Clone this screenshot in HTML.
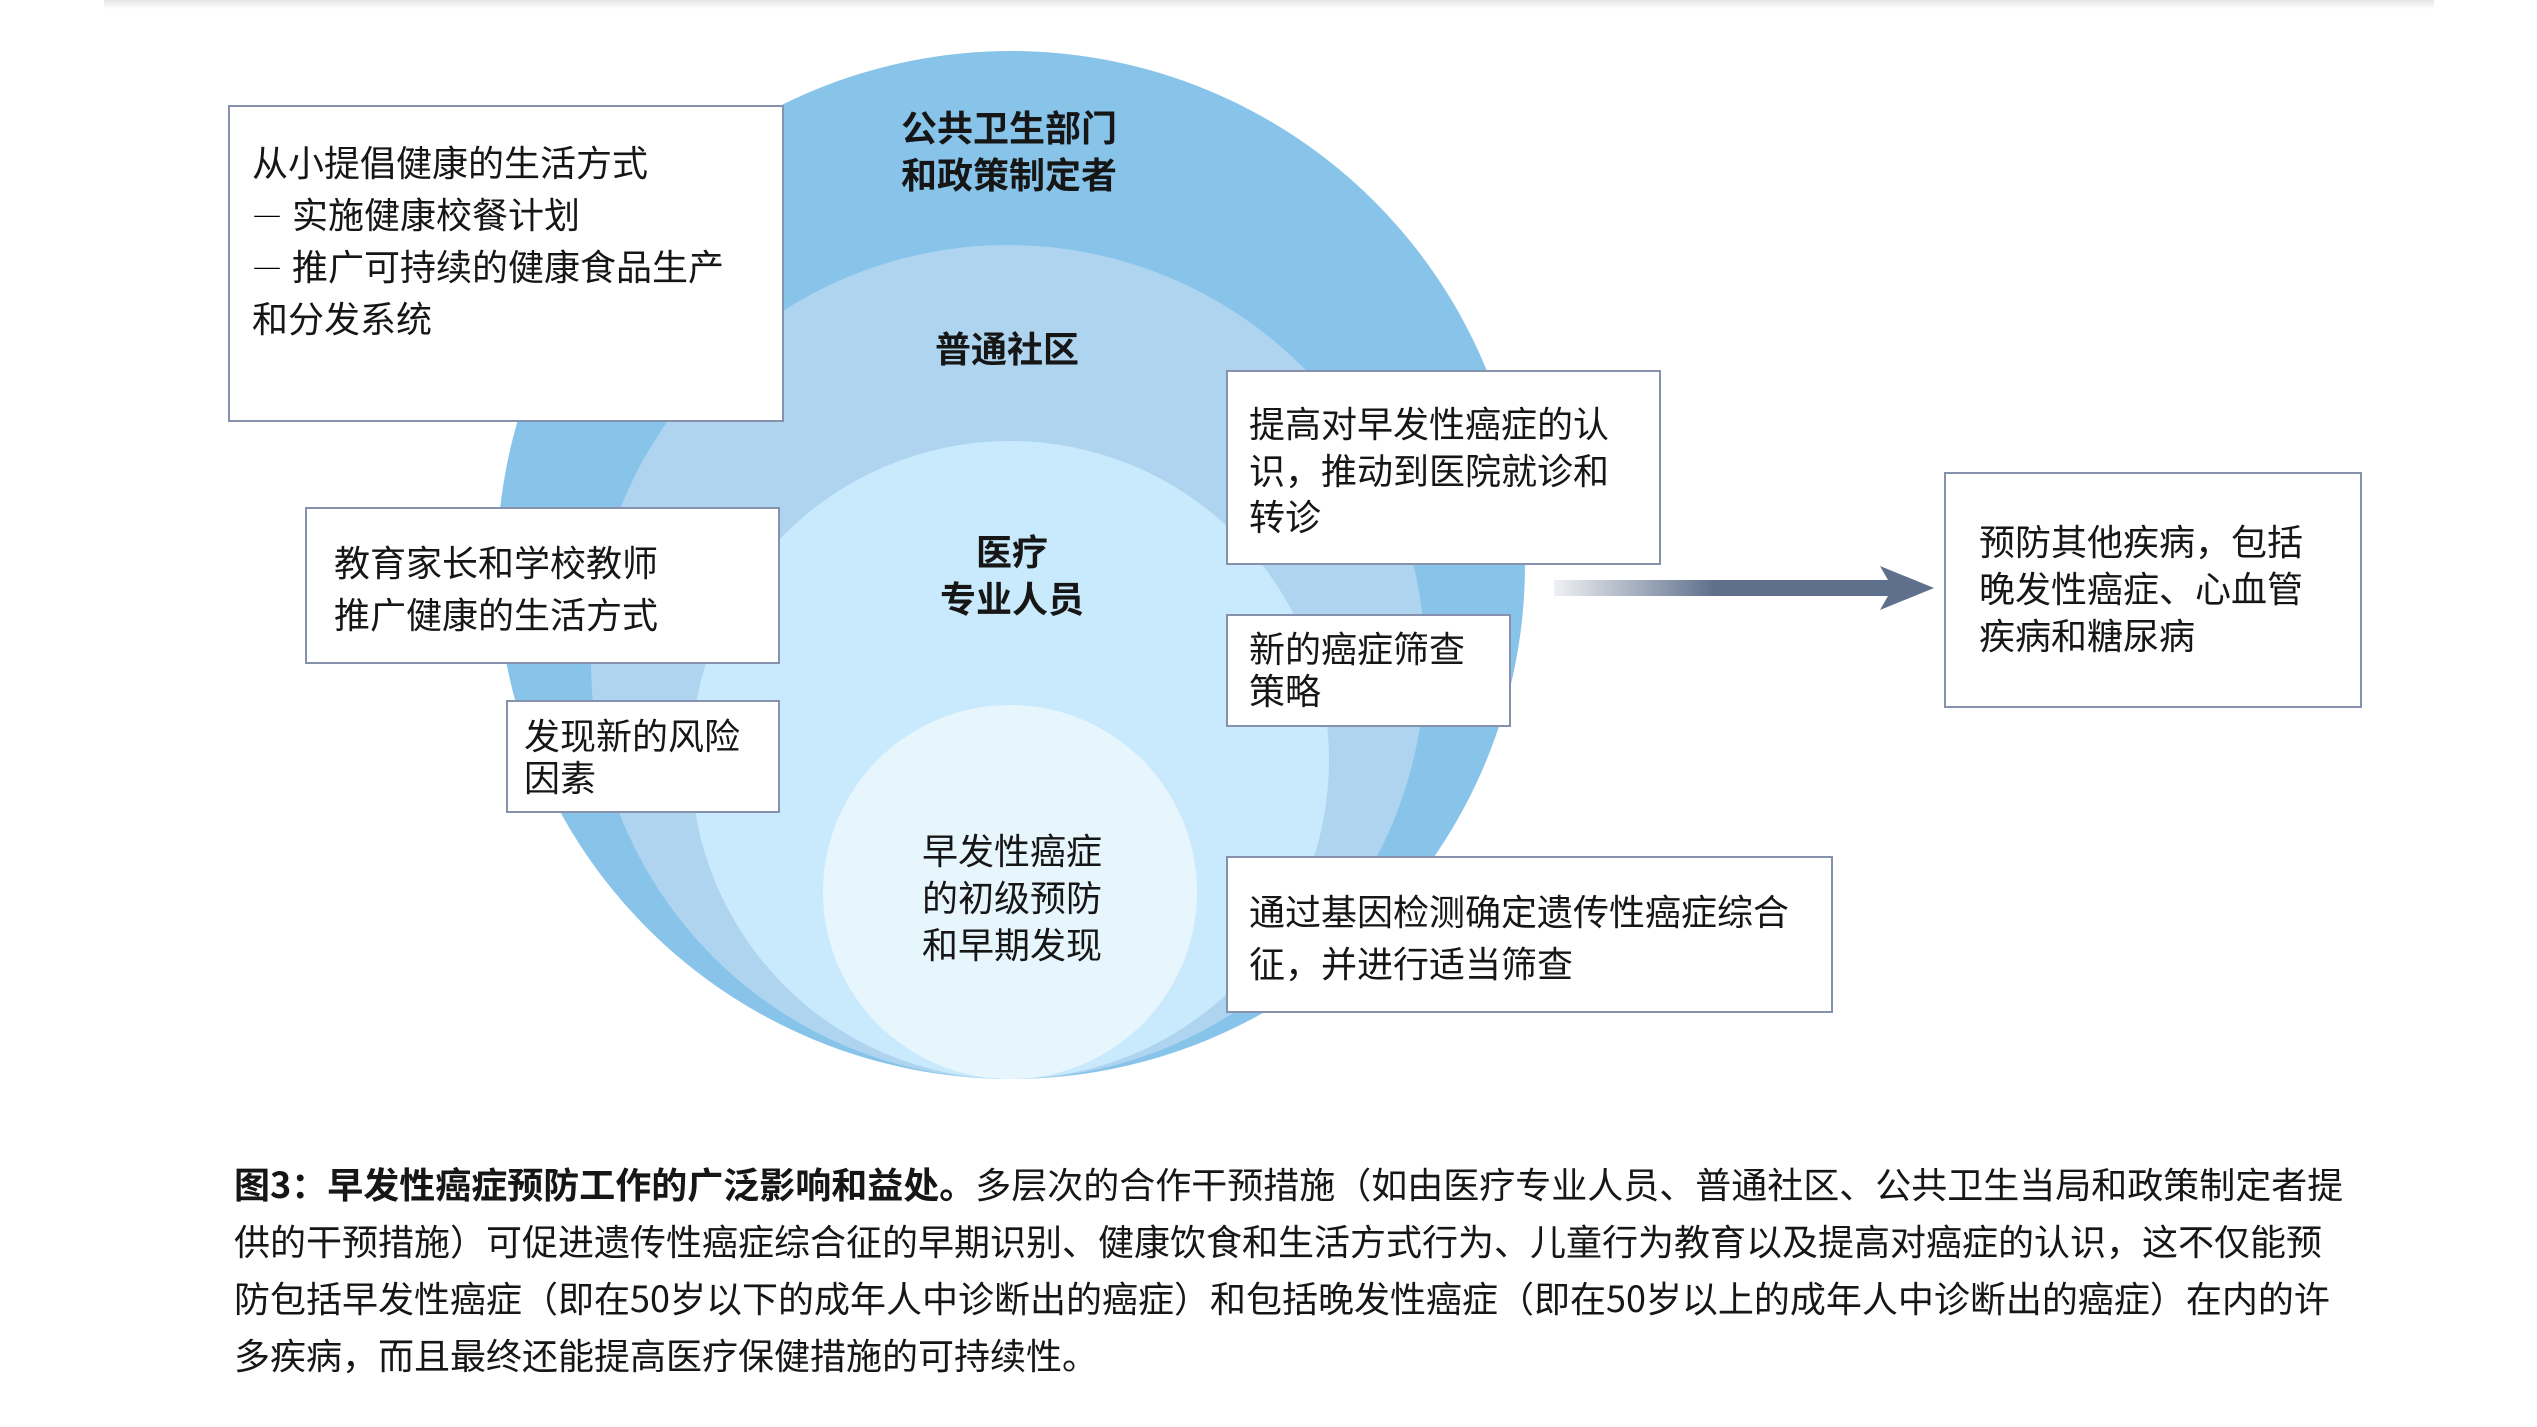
<!DOCTYPE html>
<html lang="zh-CN">
<head>
<meta charset="utf-8">
<title>早发性癌症预防工作的广泛影响和益处</title>
<style>
html,body{margin:0;padding:0;background:#fff;}
body{position:relative;width:2537px;height:1427px;overflow:hidden;font-family:"Liberation Sans","Noto Sans CJK SC",sans-serif;color:#161616;}
#topbar{position:absolute;left:104px;top:0;width:2330px;height:9px;background:linear-gradient(#e6e6e6,#ffffff);}
svg{position:absolute;left:0;top:0;}
.box{position:absolute;box-sizing:border-box;background:#fff;border:2px solid #8692ad;}
.t{position:absolute;font-family:"Noto Sans CJK SC",sans-serif;font-size:36px;white-space:nowrap;}
.c{transform:translateX(-50%);text-align:center;}
.d{font-size:30px;line-height:0;margin-right:10px;font-weight:500;color:#000;}
b{font-weight:700;}
</style>
</head>
<body>
<div id="topbar"></div>
<svg width="2537" height="1427" viewBox="0 0 2537 1427">
<defs>
<linearGradient id="g" gradientUnits="userSpaceOnUse" x1="1554" y1="0" x2="1715" y2="0">
<stop offset="0" stop-color="#5f708c" stop-opacity="0.1"/>
<stop offset="1" stop-color="#5f708c"/>
</linearGradient>
</defs>
<circle cx="1011" cy="565" r="514" fill="#88c4e9"/>
<circle cx="1008" cy="662" r="417" fill="#aed4ef"/>
<circle cx="1010" cy="760" r="319" fill="#c9eafc"/>
<circle cx="1010" cy="892" r="187" fill="#e7f6fd"/>
<path d="M1554 580H1888L1880 566L1934 588L1880 610L1888 596H1554Z" fill="url(#g)"/>
</svg>

<div class="box" style="left:228px;top:105px;width:556px;height:317px"></div>
<div class="box" style="left:305px;top:507px;width:475px;height:157px"></div>
<div class="box" style="left:506px;top:700px;width:274px;height:113px"></div>
<div class="box" style="left:1226px;top:370px;width:435px;height:195px"></div>
<div class="box" style="left:1226px;top:614px;width:285px;height:113px"></div>
<div class="box" style="left:1226px;top:856px;width:607px;height:157px"></div>
<div class="box" style="left:1944px;top:472px;width:418px;height:236px"></div>

<div class="t c" style="left:1009px;top:103px;line-height:47px;font-weight:700">公共卫生部门<br>和政策制定者</div>
<div class="t c" style="left:1007px;top:324px;line-height:47px;font-weight:700">普通社区</div>
<div class="t c" style="left:1012px;top:527px;line-height:47px;font-weight:700">医疗<br>专业人员</div>
<div class="t c" style="left:1012px;top:826px;line-height:47px">早发性癌症<br>的初级预防<br>和早期发现</div>

<div class="t" style="left:252px;top:135px;line-height:52px">从小提倡健康的生活方式<br><span class="d">—</span>实施健康校餐计划<br><span class="d">—</span>推广可持续的健康食品生产<br>和分发系统</div>
<div class="t" style="left:334px;top:535px;line-height:52px">教育家长和学校教师<br>推广健康的生活方式</div>
<div class="t" style="left:524px;top:713px;line-height:42px">发现新的风险<br>因素</div>
<div class="t" style="left:1249px;top:399px;line-height:46.5px">提高对早发性癌症的认<br>识，推动到医院就诊和<br>转诊</div>
<div class="t" style="left:1249px;top:626px;line-height:42px">新的癌症筛查<br>策略</div>
<div class="t" style="left:1249px;top:884px;line-height:52px">通过基因检测确定遗传性癌症综合<br>征，并进行适当筛查</div>
<div class="t" style="left:1979px;top:517px;line-height:47px">预防其他疾病，包括<br>晚发性癌症、心血管<br>疾病和糖尿病</div>

<div class="t" style="left:234px;top:1161px;line-height:44px"><b>图3：早发性癌症预防工作的广泛影响和益处。</b>多层次的合作干预措施（如由医疗专业人员、普通社区、公共卫生当局和政策制定者提</div>
<div class="t" style="left:234px;top:1218px;line-height:44px">供的干预措施）可促进遗传性癌症综合征的早期识别、健康饮食和生活方式行为、儿童行为教育以及提高对癌症的认识，这不仅能预</div>
<div class="t" style="left:234px;top:1275px;line-height:44px">防包括早发性癌症（即在50岁以下的成年人中诊断出的癌症）和包括晚发性癌症（即在50岁以上的成年人中诊断出的癌症）在内的许</div>
<div class="t" style="left:234px;top:1332px;line-height:44px">多疾病，而且最终还能提高医疗保健措施的可持续性。</div>
</body>
</html>
